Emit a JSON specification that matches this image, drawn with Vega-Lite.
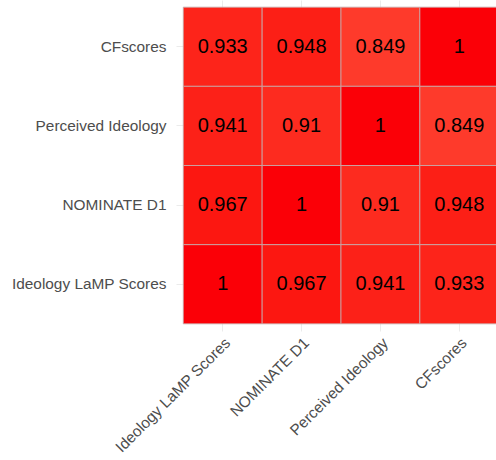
{
  "$schema": "https://vega.github.io/schema/vega-lite/v6.json",
  "width": 330,
  "height": 331,
  "autosize": {"type": "none"},
  "padding": {"left": 176, "top": 0, "right": 0, "bottom": 129},
  "background": "white",
  "config": {"view": {"stroke": null}},
  "data": {"values": [
    {"row": "CFscores", "col": "Ideology LaMP Scores", "value": 0.933},
    {"row": "CFscores", "col": "NOMINATE D1", "value": 0.948},
    {"row": "CFscores", "col": "Perceived Ideology", "value": 0.849},
    {"row": "CFscores", "col": "CFscores", "value": 1},
    {"row": "Perceived Ideology", "col": "Ideology LaMP Scores", "value": 0.941},
    {"row": "Perceived Ideology", "col": "NOMINATE D1", "value": 0.91},
    {"row": "Perceived Ideology", "col": "Perceived Ideology", "value": 1},
    {"row": "Perceived Ideology", "col": "CFscores", "value": 0.849},
    {"row": "NOMINATE D1", "col": "Ideology LaMP Scores", "value": 0.967},
    {"row": "NOMINATE D1", "col": "NOMINATE D1", "value": 1},
    {"row": "NOMINATE D1", "col": "Perceived Ideology", "value": 0.91},
    {"row": "NOMINATE D1", "col": "CFscores", "value": 0.948},
    {"row": "Ideology LaMP Scores", "col": "Ideology LaMP Scores", "value": 1},
    {"row": "Ideology LaMP Scores", "col": "NOMINATE D1", "value": 0.967},
    {"row": "Ideology LaMP Scores", "col": "Perceived Ideology", "value": 0.941},
    {"row": "Ideology LaMP Scores", "col": "CFscores", "value": 0.933}
  ]},
  "encoding": {
    "x": {
      "field": "col", "type": "nominal",
      "sort": ["Ideology LaMP Scores", "NOMINATE D1", "Perceived Ideology", "CFscores"],
      "scale": {"paddingInner": 0, "paddingOuter": 0.092},
      "axis": {
        "title": null, "domain": false, "ticks": false, "grid": true, "bandPosition": 0.5,
        "gridColor": "#ebebeb", "gridWidth": 1, "zindex": 0,
        "labelAngle": -45, "labelAlign": "right", "labelBaseline": "top",
        "labelPadding": 4, "labelFont": "Liberation Sans", "labelFontSize": 15.4,
        "labelColor": "#4d4d4d"
      }
    },
    "y": {
      "field": "row", "type": "nominal",
      "sort": ["CFscores", "Perceived Ideology", "NOMINATE D1", "Ideology LaMP Scores"],
      "scale": {"paddingInner": 0, "paddingOuter": 0.09},
      "axis": {
        "title": null, "domain": false, "ticks": false, "grid": true, "bandPosition": 0.5,
        "gridColor": "#ebebeb", "gridWidth": 1, "zindex": 0,
        "labelPadding": 10, "labelFont": "Liberation Sans", "labelFontSize": 15.4,
        "labelColor": "#4d4d4d"
      }
    }
  },
  "layer": [
    {
      "mark": {"type": "rect", "stroke": "#c4b0b0", "strokeWidth": 0.8, "zindex": 1},
      "encoding": {
        "color": {
          "field": "value", "type": "quantitative",
          "scale": {"domain": [0.849, 1], "range": ["#fe3a2b", "#fb0007"]},
          "legend": null
        }
      }
    },
    {
      "mark": {"type": "text", "font": "Liberation Sans", "fontSize": 20, "color": "black", "zindex": 2},
      "encoding": {
        "text": {"field": "value", "type": "nominal"}
      }
    }
  ]
}
